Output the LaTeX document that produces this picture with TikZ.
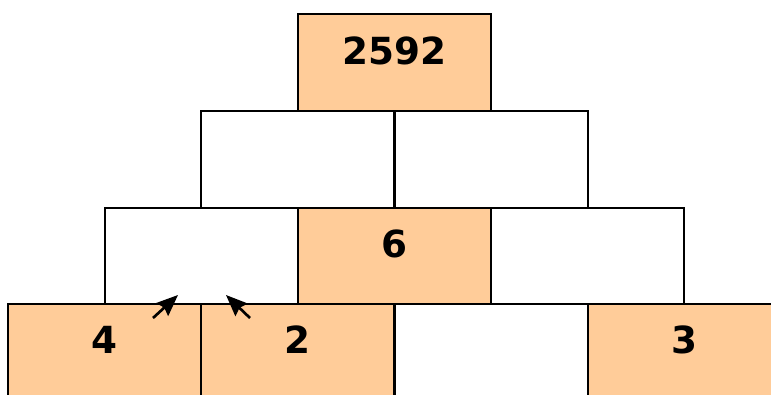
\documentclass[tikz,border=0pt]{standalone}
\usepackage{fontspec}
\setmainfont{DejaVu Sans}
\usepackage{tikz}
\usetikzlibrary{positioning,arrows.meta}
\definecolor{brickorange}{RGB}{255,204,153}

\begin{document}
\begin{tikzpicture}[x=0.75pt, y=-0.75pt,
    brick/.style={draw, line width=1.5pt, inner sep=0pt,
        minimum width=144.75pt, minimum height=72.4pt},
    given/.style={brick, fill=brickorange},
    num/.style={font=\bfseries\fontsize{28}{28}\selectfont},
    hint/.style={line width=2pt, -{Stealth[length=16pt, width=13pt, inset=2pt]}}]
    % Frame of the page
    \clip (0,0) rectangle (771,394);
    \fill[white] (0,0) rectangle (771,394);

    % Bottom row
    \node[given] (b1) at (104.5,352) {};
    \node[given] (b2) at (297.5,352) {};
    \node[brick] (b3) at (491,352) {};
    \node[given] (b4) at (684.5,352) {};

    % Third row
    \node[brick] (c1) at (201.5,256) {};
    \node[given] (c2) at (394.5,256) {};
    \node[brick] (c3) at (587.5,256) {};

    % Second row
    \node[brick] (d1) at (297.5,159.5) {};
    \node[brick] (d2) at (491,159.5) {};

    % Top
    \node[given] (top) at (394.5,62.5) {};

    % Numbers
    \node[num] (n1) at ([yshift=9pt]b1.center) {4};
    \node[num] (n2) at ([yshift=9pt]b2.center) {2};
    \node[num] (n4) at ([yshift=9pt]b4.center) {3};
    \node[num] (nc) at ([yshift=9pt]c2.center) {6};
    \node[num] (nt) at ([yshift=9pt]top.center) {2592};

    % Arrows into the empty brick
    \coordinate (p1) at (153,318);
    \coordinate (q1) at (178,295);
    \coordinate (p2) at (250,318);
    \coordinate (q2) at (226,295);
    \draw[hint] (p1) -- (q1);
    \draw[hint] (p2) -- (q2);
\end{tikzpicture}
\end{document}
